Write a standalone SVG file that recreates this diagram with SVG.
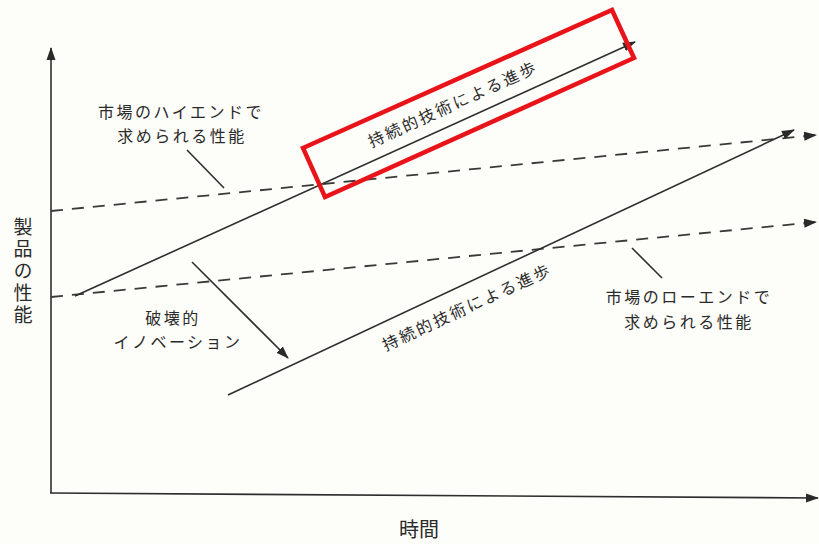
<svg xmlns="http://www.w3.org/2000/svg" width="819" height="544" viewBox="0 0 819 544">
<style>
.ln{stroke:#2e2e2e;stroke-width:1.6;fill:none}
.ds{stroke:#3a3a3a;stroke-width:1.8;fill:none;stroke-dasharray:12 9}
.t{font-family:"Noto Sans CJK JP","Noto Sans",sans-serif;fill:#2a2a2a;font-size:16px;text-anchor:middle;letter-spacing:2.5px}
</style>
<defs>
<marker id="ah" markerUnits="userSpaceOnUse" markerWidth="14" markerHeight="10" refX="12" refY="5" orient="auto">
<path d="M0,0.5 L13,5 L0,9.5 Z" fill="#2a2a2a"/>
</marker>
</defs>
<rect width="819" height="544" fill="#fdfdf9"/>
<g id="axes">
<line class="ln" x1="51" y1="493" x2="51" y2="48" marker-end="url(#ah)"/>
<line class="ln" x1="50" y1="493" x2="818" y2="498" marker-end="url(#ah)"/>
<text class="t" x="419" y="537" style="font-size:20px;letter-spacing:0">時間</text>
<text class="t" x="23" y="217" style="font-size:19px;letter-spacing:3px;writing-mode:vertical-rl;text-anchor:start">製品の性能</text>
</g>
<g id="connectors">
<line class="ds" x1="51" y1="211" x2="816" y2="135" marker-end="url(#ah)"/>
<line class="ds" x1="51" y1="297" x2="816" y2="222" marker-end="url(#ah)"/>
<line class="ln" x1="75" y1="296" x2="635" y2="42" marker-end="url(#ah)"/>
<line class="ln" x1="228" y1="395" x2="794" y2="130" marker-end="url(#ah)"/>
<line class="ln" x1="192" y1="262" x2="288" y2="358" marker-end="url(#ah)"/>
<line class="ln" x1="187" y1="150" x2="224" y2="188"/>
<line class="ln" x1="632" y1="248" x2="662" y2="278"/>
</g>
<g id="highend">
<text class="t" x="181" y="118">市場のハイエンドで</text>
<text class="t" x="182" y="142">求められる性能</text>
</g>
<g id="lowend">
<text class="t" x="689" y="303">市場のローエンドで</text>
<text class="t" x="689" y="328">求められる性能</text>
</g>
<g id="disruptive">
<text class="t" x="173" y="324">破壊的</text>
<text class="t" x="178" y="348">イノベーション</text>
</g>
<g id="sustain-upper">
<text class="t" x="453" y="110" transform="rotate(-24.5 453 104)">持続的技術による進歩</text>
</g>
<g id="sustain-lower">
<text class="t" x="467" y="313" transform="rotate(-24.8 467 307)">持続的技術による進歩</text>
</g>
<g id="highlight">
<polygon points="303,148 612,10 634,58 325,197" fill="none" stroke="#e8141a" stroke-width="4.5" stroke-linejoin="miter"/>
</g>
</svg>
